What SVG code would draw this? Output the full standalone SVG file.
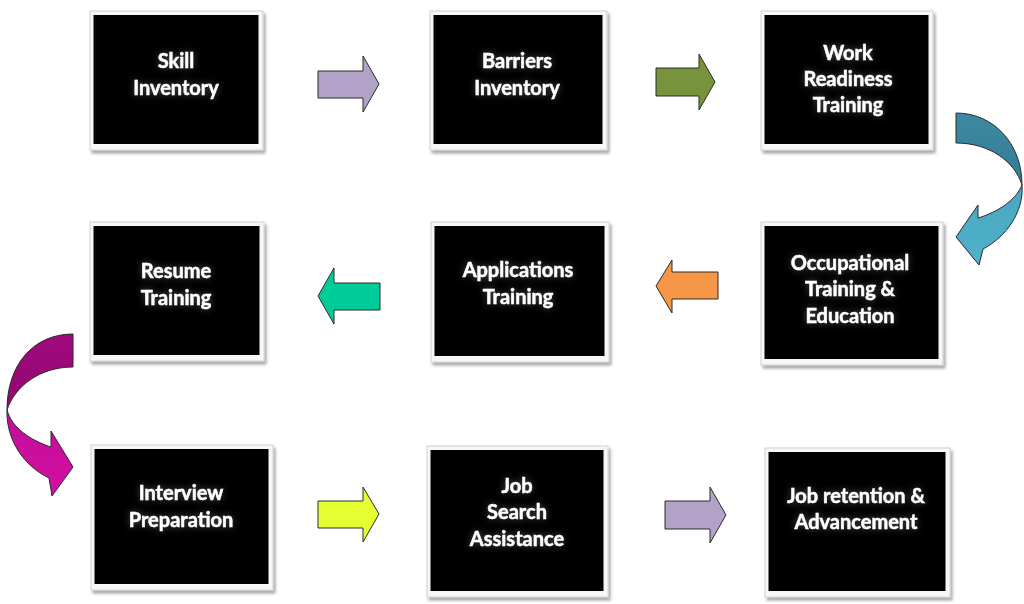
<svg xmlns="http://www.w3.org/2000/svg" width="1024" height="604" viewBox="0 0 1024 604">
<defs>
<filter id="shadow" x="-10%" y="-10%" width="120%" height="120%">
<feGaussianBlur in="SourceAlpha" stdDeviation="1.5"/>
<feOffset dx="1.5" dy="2.5" result="b"/>
<feFlood flood-color="#000" flood-opacity="0.35"/>
<feComposite in2="b" operator="in"/>
<feMerge><feMergeNode/><feMergeNode in="SourceGraphic"/></feMerge>
</filter>
<filter id="glow" x="-20%" y="-40%" width="140%" height="180%">
<feGaussianBlur in="SourceAlpha" stdDeviation="3.5" result="b"/>
<feFlood flood-color="#ffffff" flood-opacity="0.3"/>
<feComposite in2="b" operator="in"/>
<feMerge><feMergeNode/><feMergeNode in="SourceGraphic"/></feMerge>
</filter>
<linearGradient id="blueDark" x1="0" y1="0" x2="0" y2="1"><stop offset="0" stop-color="#3C89A1"/><stop offset="1" stop-color="#347D94"/></linearGradient>
<linearGradient id="blueLight" x1="0" y1="0" x2="0" y2="1"><stop offset="0" stop-color="#4AA6C0"/><stop offset="1" stop-color="#4FB1CB"/></linearGradient>
<linearGradient id="magDark" x1="0" y1="0" x2="0" y2="1"><stop offset="0" stop-color="#A00A7E"/><stop offset="1" stop-color="#94066F"/></linearGradient>
<linearGradient id="magLight" x1="0" y1="0" x2="0" y2="1"><stop offset="0" stop-color="#C30D98"/><stop offset="1" stop-color="#D110A3"/></linearGradient>
</defs>
<style>
.frame{fill:#F7F7F7;stroke:#D0D0D0;stroke-width:1;filter:url(#shadow)}
.inner{fill:#000}
.lbl{font-family:"Lato","Open Sans","Liberation Sans",sans-serif;font-weight:bold;font-size:20px;fill:#fff;stroke:#fff;stroke-width:0.5;text-anchor:middle;filter:url(#glow)}
.arr{stroke:#2a2a2a;stroke-width:1;stroke-linejoin:miter}
</style>
<rect width="1024" height="604" fill="#fff"/>

<g id="n1">
<rect class="frame" x="90" y="11" width="173" height="139"/>
<rect class="inner" x="93.5" y="15" width="165" height="129"/>
<text class="lbl" x="176" y="68">Skill</text>
<text class="lbl" x="176" y="95">Inventory</text>
</g>
<g id="n2">
<rect class="frame" x="430" y="11" width="177" height="139"/>
<rect class="inner" x="433.5" y="15" width="169" height="129"/>
<text class="lbl" x="517" y="68">Barriers</text>
<text class="lbl" x="517" y="95">Inventory</text>
</g>
<g id="n3">
<rect class="frame" x="761" y="11" width="172" height="139"/>
<rect class="inner" x="764.5" y="15" width="164" height="129"/>
<text class="lbl" x="848" y="60">Work</text>
<text class="lbl" x="848" y="86">Readiness</text>
<text class="lbl" x="848" y="112">Training</text>
</g>
<g id="n4">
<rect class="frame" x="90" y="222" width="174" height="139"/>
<rect class="inner" x="93.5" y="226" width="166" height="129"/>
<text class="lbl" x="176" y="278">Resume</text>
<text class="lbl" x="176" y="305">Training</text>
</g>
<g id="n5">
<rect class="frame" x="431" y="222" width="178" height="140"/>
<rect class="inner" x="434.5" y="226" width="170" height="130"/>
<text class="lbl" x="518" y="277">Applications</text>
<text class="lbl" x="518" y="304">Training</text>
</g>
<g id="n6">
<rect class="frame" x="761" y="222" width="182" height="143"/>
<rect class="inner" x="764.5" y="226" width="174" height="133"/>
<text class="lbl" x="850" y="270">Occupational</text>
<text class="lbl" x="850" y="296">Training &amp;</text>
<text class="lbl" x="850" y="323">Education</text>
</g>
<g id="n7">
<rect class="frame" x="91" y="445" width="182" height="145"/>
<rect class="inner" x="94.5" y="449" width="174" height="135"/>
<text class="lbl" x="181" y="500">Interview</text>
<text class="lbl" x="181" y="527">Preparation</text>
</g>
<g id="n8">
<rect class="frame" x="427" y="446" width="181" height="151"/>
<rect class="inner" x="430.5" y="450" width="173" height="141"/>
<text class="lbl" x="517" y="493">Job</text>
<text class="lbl" x="517" y="519">Search</text>
<text class="lbl" x="517" y="546">Assistance</text>
</g>
<g id="n9">
<rect class="frame" x="765" y="448" width="185" height="149"/>
<rect class="inner" x="768.5" y="452" width="177" height="139"/>
<text class="lbl" x="856" y="503">Job retention &amp;</text>
<text class="lbl" x="856" y="529">Advancement</text>
</g>

<g id="connectors">
<path class="arr" fill="#B3A2C7" d="M318,71 H363 V56 L379,84 L363,112 V98 H318 Z"/>
<path class="arr" fill="#77933C" d="M656,68 H699 V54 L715,82 L699,110 V96 H656 Z"/>
<path class="arr" fill="url(#blueDark)" d="M956,113 C993,113 1022,143 1022,185 C1015,162 990,143 956,143 Z"/>
<path class="arr" fill="url(#blueLight)" d="M1022,185 C1024,212 1006,237 983,249 L979,265 L956,237 L978,205 L978,218 C998,212 1016,200 1022,185 Z"/>
<path class="arr" fill="#F79646" d="M718,272 H672 V260 L656,286 L672,313 V299 H718 Z"/>
<path class="arr" fill="#00CC99" d="M380,283 H334 V268 L318,296 L334,324 V310 H380 Z"/>
<path class="arr" fill="url(#magDark)" d="M73,334 C33,334 7,365 7,410 C15,386 40,367 73,367 Z"/>
<path class="arr" fill="url(#magLight)" d="M7,410 C6,440 24,466 49,478 L52,496 L73,467 L51,431 L51,447 C30,440 12,428 7,410 Z"/>
<path class="arr" fill="#E6FF33" d="M318,501 H363 V487 L379,514 L363,542 V528 H318 Z"/>
<path class="arr" fill="#B3A2C7" d="M665,501 H710 V487 L726,515 L710,543 V529 H665 Z"/>
</g>
</svg>
